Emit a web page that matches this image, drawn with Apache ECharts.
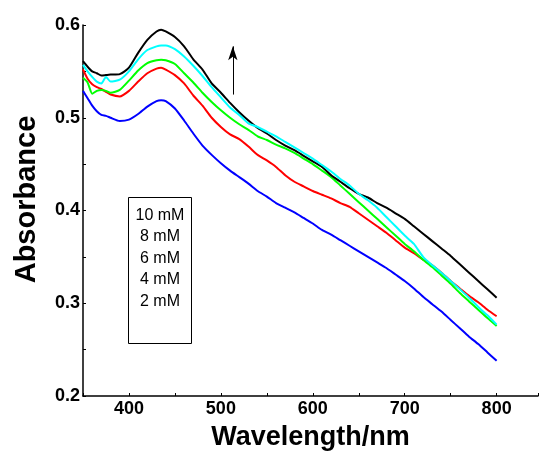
<!DOCTYPE html>
<html>
<head>
<meta charset="utf-8">
<script src="https://cdn.jsdelivr.net/npm/echarts@6/dist/echarts.min.js"></script>
<style>html,body{margin:0;padding:0;background:#fff;}#c{width:541px;height:456px;}</style>
</head>
<body>
<div id="c"></div>
<script>
var wavelengths = [350,355,360,365,370,375,380,390,400,410,420,430,435,440,450,460,470,480,490,500,510,520,530,540,550,560,570,580,590,600,610,620,630,640,650,660,670,680,690,700,710,720,730,740,750,760,770,780,790,800];
var seriesNames = ['10 mM','8 mM','6 mM','4 mM','2 mM'];
var abs10 = [0.561,0.555,0.550,0.548,0.5455,0.546,0.5465,0.547,0.554,0.570,0.584,0.593,0.595,0.593,0.587,0.577,0.563,0.552,0.537,0.527,0.516,0.506,0.497,0.489,0.483,0.476,0.470,0.465,0.459,0.453,0.447,0.438,0.431,0.424,0.418,0.414,0.408,0.403,0.397,0.391,0.383,0.375,0.367,0.359,0.351,0.342,0.333,0.324,0.315,0.306];
var abs8 = [0.557,0.550,0.544,0.539,0.537,0.544,0.539,0.541,0.550,0.563,0.573,0.577,0.578,0.578,0.574,0.566,0.556,0.545,0.533,0.522,0.511,0.503,0.494,0.490,0.485,0.480,0.474,0.468,0.462,0.456,0.449,0.442,0.434,0.427,0.418,0.411,0.403,0.393,0.383,0.373,0.364,0.350,0.341,0.333,0.324,0.315,0.306,0.296,0.287,0.277];
var abs6 = [0.543,0.538,0.526,0.529,0.530,0.529,0.527,0.530,0.540,0.551,0.559,0.562,0.5625,0.562,0.558,0.548,0.538,0.527,0.517,0.508,0.500,0.493,0.487,0.480,0.476,0.471,0.467,0.462,0.456,0.450,0.443,0.436,0.427,0.418,0.409,0.400,0.391,0.382,0.373,0.364,0.356,0.347,0.339,0.330,0.321,0.311,0.302,0.293,0.284,0.2755];
var abs4 = [0.552,0.542,0.536,0.533,0.531,0.528,0.525,0.523,0.529,0.539,0.548,0.553,0.554,0.552,0.546,0.537,0.524,0.513,0.500,0.490,0.482,0.477,0.469,0.460,0.454,0.447,0.438,0.431,0.426,0.421,0.417,0.413,0.408,0.404,0.397,0.390,0.383,0.376,0.368,0.360,0.354,0.347,0.341,0.333,0.324,0.316,0.308,0.301,0.293,0.286];
var abs2 = [0.529,0.521,0.513,0.507,0.503,0.502,0.500,0.4965,0.498,0.504,0.512,0.518,0.519,0.518,0.510,0.497,0.483,0.470,0.460,0.451,0.443,0.436,0.429,0.421,0.415,0.408,0.403,0.398,0.392,0.386,0.379,0.374,0.368,0.362,0.356,0.350,0.344,0.338,0.331,0.324,0.316,0.307,0.299,0.291,0.282,0.273,0.264,0.256,0.247,0.238];
var arrowStart = [513, 0.525];
var arrowEnd = [513, 0.577];

function pairs(v){ return wavelengths.map(function(w,i){ return [w, v[i]]; }); }
var valueSets = [abs10, abs8, abs6, abs4, abs2];
var colors = ['#000000','#00ffff','#00ff00','#ff0000','#0000ff'];
var drawOrder = [4,3,2,0,1];

var series = drawOrder.map(function(k){
  return {
    name: seriesNames[k], type: 'line', data: pairs(valueSets[k]),
    showSymbol: false, symbol: 'none', smooth: 0.2,
    lineStyle: {color: colors[k], width: 2}, itemStyle: {color: colors[k]},
    z: 2, silent: true, animation: false
  };
});
series[0].markLine = {
  silent: true, animation: false, symbol: ['none','arrow'], symbolSize: [7, 14],
  label: {show: false},
  lineStyle: {color: '#000', width: 1, type: 'solid'},
  data: [[{coord: arrowStart}, {coord: arrowEnd}]]
};

var chart = echarts.init(document.getElementById('c'), null, {renderer: 'canvas'});
chart.setOption({
  animation: false,
  backgroundColor: '#fff',
  grid: {left: 83, top: 25, right: 0, bottom: 57, containLabel: false},
  xAxis: {
    type: 'value', min: 350, max: 845, interval: 50,
    name: 'Wavelength/nm', nameLocation: 'middle', nameGap: 28,
    nameTextStyle: {fontFamily: '"Liberation Sans", Arial, sans-serif', fontWeight: 'bold', fontSize: 27, color: '#000'},
    axisLine: {show: true, lineStyle: {color: '#000', width: 1.5}},
    axisTick: {show: true, inside: true, length: 3, lineStyle: {color: '#000'}},
    axisLabel: {color: '#000', fontFamily: '"Liberation Sans", Arial, sans-serif', fontWeight: 'bold', fontSize: 18, margin: 4,
      formatter: function(v){ return (v % 100 === 0) ? String(v) : ''; }},
    splitLine: {show: false}
  },
  yAxis: {
    type: 'value', min: 0.2, max: 0.6, interval: 0.05,
    name: 'Absorbance', nameLocation: 'middle', nameGap: 42, nameRotate: 90,
    nameTextStyle: {fontFamily: '"Liberation Sans", Arial, sans-serif', fontWeight: 'bold', fontSize: 29, color: '#000', padding: [0,0,0,22]},
    axisLine: {show: true, lineStyle: {color: '#000', width: 1.5}},
    axisTick: {show: true, inside: true, length: 3, lineStyle: {color: '#000'}},
    axisLabel: {color: '#000', fontFamily: '"Liberation Sans", Arial, sans-serif', fontWeight: 'bold', fontSize: 18, margin: 3,
      formatter: function(v){ var t = Math.round(v*10); return Math.abs(v*10 - t) < 1e-6 ? (t/10).toFixed(1) : ''; }},
    splitLine: {show: false}
  },
  series: series,
  graphic: [{
    type: 'group', left: 128, top: 197, width: 63, height: 146,
    children: [{type: 'rect', shape: {x: 0, y: 0, width: 63, height: 146}, style: {fill: '#fff', stroke: '#000', lineWidth: 1}}]
      .concat(seriesNames.map(function(n, i){
        return {type: 'text', x: 31.5, y: 10 + i*21.5,
          style: {text: n, font: '16px "Liberation Sans", Arial, sans-serif', fill: '#000', align: 'center', verticalAlign: 'top'}};
      }))
  }]
});
</script>
</body>
</html>
